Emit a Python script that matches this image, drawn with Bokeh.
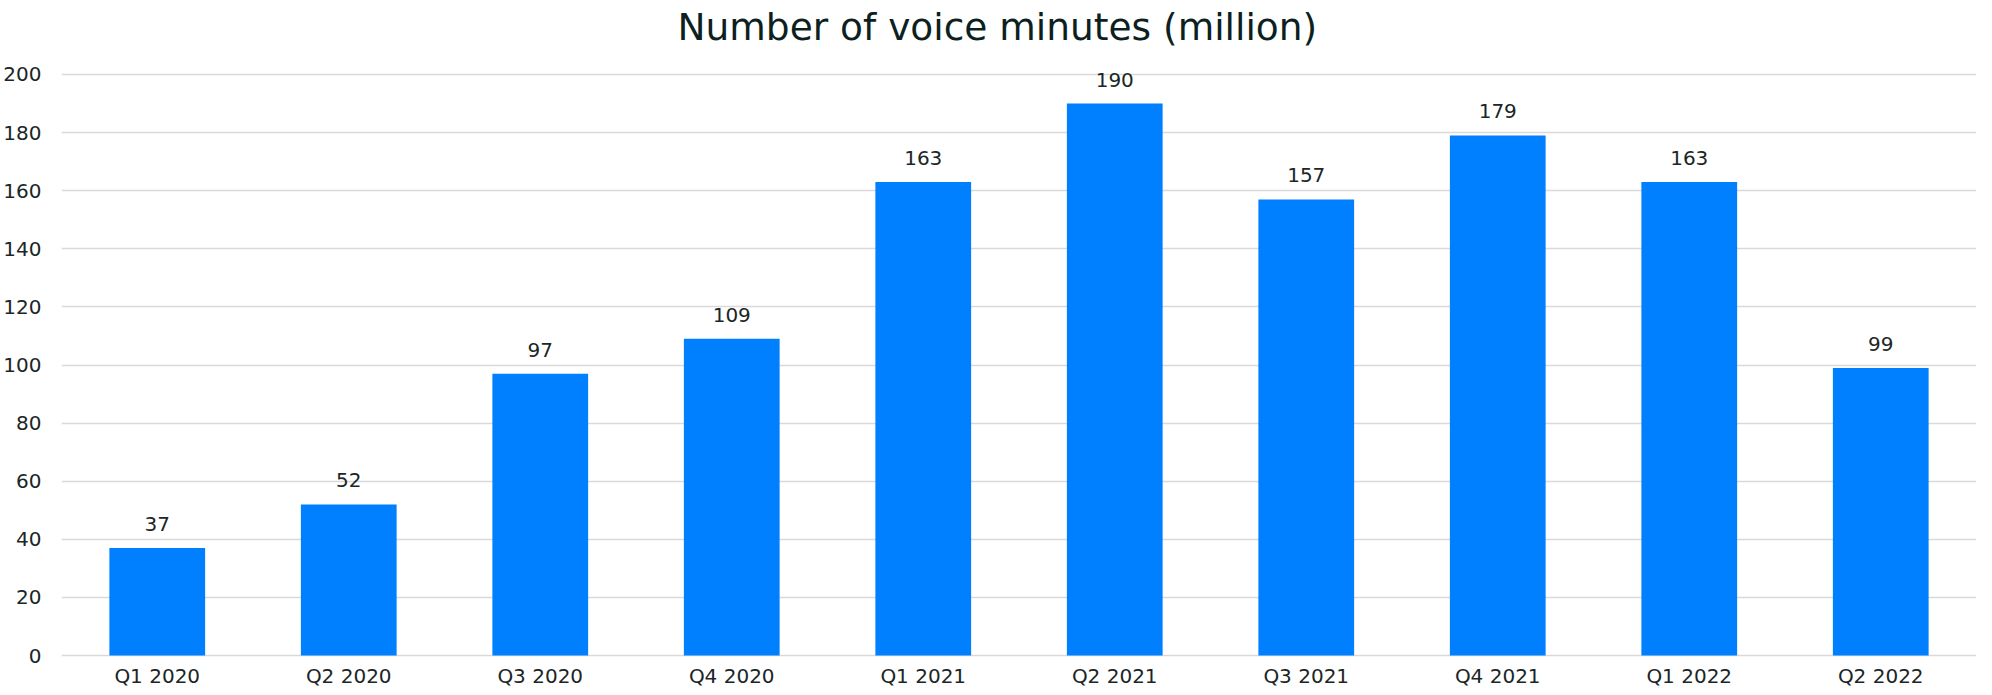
from bokeh.plotting import figure
from bokeh.models import Range1d, FixedTicker, ColumnDataSource, LabelSet
from bokeh.core.properties import value
from bokeh.embed import file_html
from bokeh.resources import INLINE

categories = ["Q1 2020", "Q2 2020", "Q3 2020", "Q4 2020", "Q1 2021",
              "Q2 2021", "Q3 2021", "Q4 2021", "Q1 2022", "Q2 2022"]
values = [37, 52, 97, 109, 163, 190, 157, 179, 163, 99]
y_ticks = [0, 20, 40, 60, 80, 100, 120, 140, 160, 180, 200]
title_text = "Number of voice minutes (million)"

FONT = "DejaVu Sans"
TEXT_COLOR = "#1b2626"

src = ColumnDataSource(dict(cat=categories, val=values, lbl=[str(v) for v in values],
                            zero=[0] * len(categories)))

p = figure(x_range=categories, y_range=Range1d(-11.0, 208.25),
           x_axis_location=None,
           width=1976, height=687, output_backend="svg", toolbar_location=None,
           min_border_left=59, min_border_right=0, min_border_top=0, min_border_bottom=0)

p.title.text = title_text
p.title.align = "left"
p.title.offset = 616
p.title.text_font = FONT
p.title.text_font_size = "37.5px"
p.title.text_font_style = "normal"
p.title.text_color = "#0d1f1f"
p.title.standoff = 4

p.vbar(x="cat", top="val", width=0.5, source=src, color="#0080ff", line_color=None)

labels = LabelSet(x="cat", y="val", text="lbl", source=src, text_align="center",
                  text_baseline="alphabetic", y_offset=17, text_font=value(FONT),
                  text_font_size=value("20px"), text_color=TEXT_COLOR)
p.add_layout(labels)

cat_labels = LabelSet(x="cat", y="zero", text="cat", source=src, text_align="center",
                      text_baseline="alphabetic", y_offset=-27, text_font=value(FONT),
                      text_font_size=value("20px"), text_color=TEXT_COLOR)
p.add_layout(cat_labels)

p.outline_line_color = None
p.xgrid.grid_line_color = None
p.ygrid.grid_line_color = "#d9d9d9"
p.ygrid.grid_line_width = 1.5
p.yaxis.ticker = FixedTicker(ticks=y_ticks)

ax = p.yaxis
ax.axis_line_color = None
ax.major_tick_line_color = None
ax.minor_tick_line_color = None
ax.major_tick_out = 0
ax.major_tick_in = 0
ax.major_label_text_font = FONT
ax.major_label_text_font_size = "20px"
ax.major_label_text_color = TEXT_COLOR
ax.major_label_standoff = 20

open("out.html", "w").write(file_html(p, INLINE))
